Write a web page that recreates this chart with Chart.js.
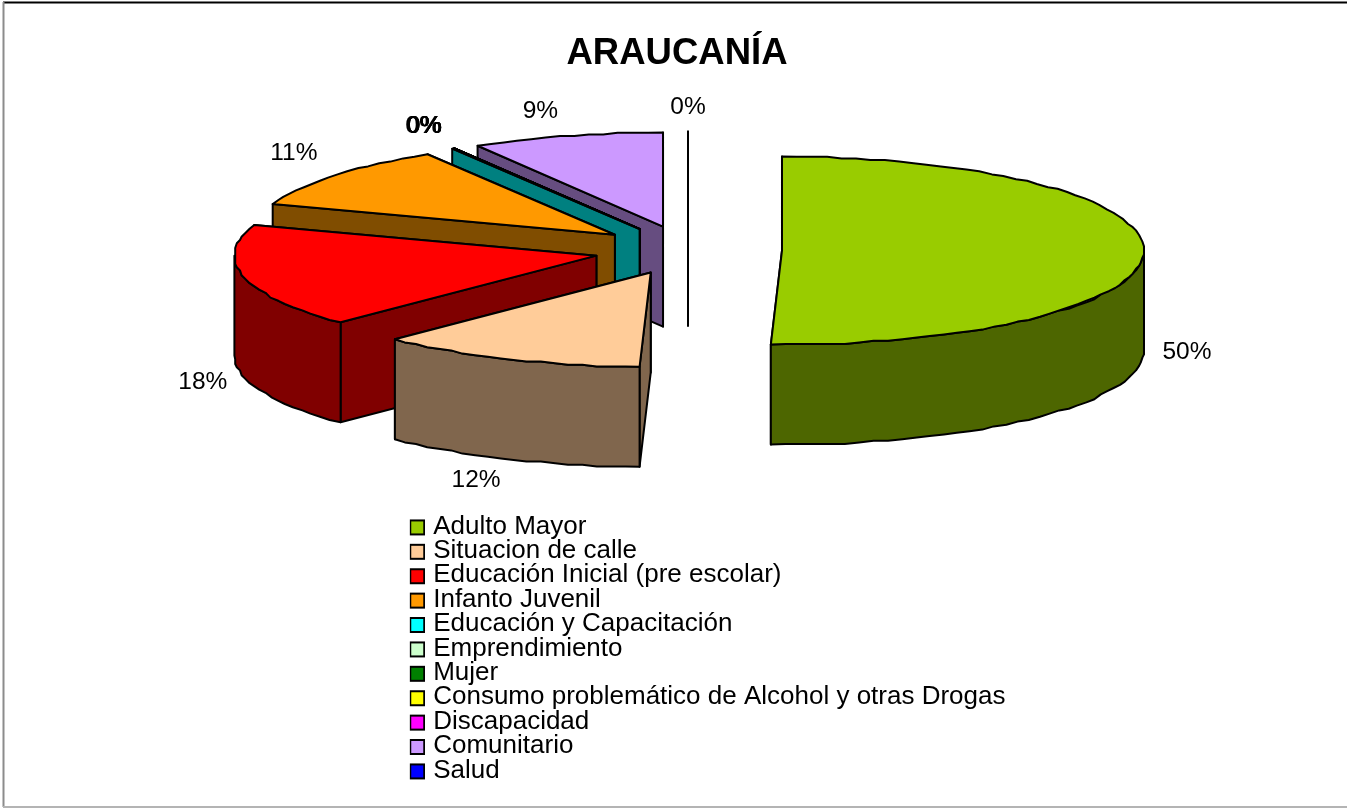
<!DOCTYPE html>
<html>
<head>
<meta charset="utf-8">
<style>
html,body{margin:0;padding:0;background:#fff;overflow:hidden}
canvas{display:block}
</style>
<script src="https://cdn.jsdelivr.net/npm/chart.js@4/dist/chart.umd.min.js"></script>
</head>
<body>
<canvas id="c" width="1347" height="808"></canvas>
<script>
const chartTitle = 'ARAUCANÍA';
const categories = ['Adulto Mayor','Situacion de calle','Educación Inicial (pre escolar)','Infanto Juvenil','Educación y Capacitación','Emprendimiento','Mujer','Consumo problemático de Alcohol y otras Drogas','Discapacidad','Comunitario','Salud'];
const values = [50.49, 12, 17.8, 11.05, 0.1, 0, 0, 0, 0, 8.56, 0];
const sliceColors = ['#99CC00','#FFCC99','#FF0000','#FF9900','#00FFFF','#CCFFCC','#008000','#FFFF00','#FF00FF','#CC99FF','#0000FF'];

const FONT = '"Liberation Sans", Arial, sans-serif';
const SQUASH = 0.26, DEPTH = 100, RADIUS = 362, EXPLODE = 94;
const LABEL_GAP_X = 43, LABEL_GAP_Y = 22;
const labelNudge = [[0,0],[-14,1],[1,0],[-6,-9],[-8,-3],[-8,-3],[-8,-3],[-8,-3],[-8,-3],[-15,-3],[0,-2]];

function darker(hex){
  const n = parseInt(hex.slice(1),16);
  const h = v => Math.round(v/2).toString(16).padStart(2,'0');
  return '#'+h(n>>16&255)+h(n>>8&255)+h(n&255);
}
const snap = v => Math.round(v/1.6)*1.6;

function geometry(arc){
  const mid = (arc.startAngle+arc.endAngle)/2;
  return {
    tx: arc.x+Math.cos(mid)*EXPLODE,
    ty: arc.y+Math.sin(mid)*EXPLODE*SQUASH,
    r: arc.outerRadius, mid
  };
}
function rimPoint(g,a){
  return [g.tx+Math.cos(a)*g.r, g.ty+Math.sin(a)*g.r*SQUASH];
}
function rim(g,a0,a1){
  const n = Math.max(1,Math.ceil(Math.abs(a1-a0)*g.r/15)), pts=[];
  for(let i=0;i<=n;i++){
    const p=rimPoint(g,a0+(a1-a0)*i/n);
    pts.push(i===0||i===n?p:[snap(p[0]),snap(p[1])]);
  }
  return pts;
}
function poly(ctx,pts,fill){
  ctx.beginPath();
  pts.forEach((p,i)=> i?ctx.lineTo(p[0],p[1]):ctx.moveTo(p[0],p[1]));
  ctx.closePath();
  if(fill){ctx.fillStyle=fill;ctx.fill();}
  ctx.stroke();
}
function drawSlice(ctx,arc,color){
  const g = geometry(arc), a0=arc.startAngle, a1=arc.endAngle;
  const tip=[g.tx,g.ty], empty = a1-a0===0, side = empty?null:darker(color);
  ctx.strokeStyle='#000'; ctx.lineWidth=2; ctx.lineJoin='round';
  const walls=[a0,a1].map(a=>{
    const p=rimPoint(g,a);
    return {my:(p[1]+g.ty)/2, pts:[tip,p,[p[0],p[1]+DEPTH],[tip[0],tip[1]+DEPTH]]};
  }).sort((u,v)=>u.my-v.my);
  walls.forEach(w=>poly(ctx,w.pts,side));
  const lo=Math.max(a0,0), hi=Math.min(a1,Math.PI);
  if(lo<hi){
    const t=rim(g,lo,hi);
    poly(ctx,t.concat(t.slice().reverse().map(p=>[p[0],p[1]+DEPTH])),side);
  }
  if(!empty) poly(ctx,[tip].concat(rim(g,a0,a1)),color);
}

const pie3d = {
  id:'pie3d',
  beforeDraw(chart){
    const ctx=chart.ctx, L=chart.legend;
    L.left=409.8; L.top=515; L.right=1300; L.bottom=800;
    const T=chart.titleBlock; T.left=0; T.right=1354;
    ctx.save();
    ctx.fillStyle='#fff'; ctx.fillRect(0,0,chart.width,chart.height);
    ctx.strokeStyle='#000'; ctx.lineWidth=2;
    ctx.beginPath(); ctx.moveTo(3,2.5); ctx.lineTo(chart.width,2.5); ctx.stroke();
    ctx.strokeStyle='#8c8c8c';
    ctx.beginPath(); ctx.moveTo(3.5,2); ctx.lineTo(3.5,807); ctx.stroke();
    ctx.strokeStyle='#b4b4b4';
    ctx.beginPath(); ctx.moveTo(3,807); ctx.lineTo(chart.width,807); ctx.stroke();
    ctx.restore();
  },
  beforeDatasetDraw(){ return false; },
  afterDatasetsDraw(chart){
    const ctx=chart.ctx, arcs=chart.getDatasetMeta(0).data;
    const order=arcs.map((a,i)=>i).sort((i,j)=>geometry(arcs[i]).ty-geometry(arcs[j]).ty);
    ctx.save();
    order.forEach(i=>drawSlice(ctx,arcs[i],sliceColors[i]));
    const total=values.reduce((s,v)=>s+v,0);
    ctx.fillStyle='#000'; ctx.font='24.5px '+FONT; ctx.textAlign='center'; ctx.textBaseline='middle';
    arcs.forEach((arc,i)=>{
      const g=geometry(arc), front=Math.sin(g.mid)>=-0.02;
      const x=g.tx+Math.cos(g.mid)*(g.r+LABEL_GAP_X)+labelNudge[i][0];
      const y=g.ty+Math.sin(g.mid)*(g.r*SQUASH+LABEL_GAP_Y)+(front?DEPTH:0)+labelNudge[i][1];
      ctx.fillText(Math.round(values[i]/total*100)+'%',x,y);
    });
    ctx.restore();
  }
};

function legendSwatch(color){
  const c=document.createElement('canvas'); c.width=22; c.height=22;
  const x=c.getContext('2d');
  x.fillStyle=color; x.strokeStyle='#000'; x.lineWidth=2;
  x.fillRect(7,5,14,14); x.strokeRect(7,5,14,14);
  return c;
}

new Chart(document.getElementById('c'),{
  type:'pie',
  data:{labels:categories,datasets:[{data:values,backgroundColor:sliceColors,borderColor:'#000',borderWidth:1,radius:RADIUS,offset:EXPLODE}]},
  options:{
    responsive:false,animation:false,
    layout:{padding:{left:29,bottom:393.2}},
    plugins:{
      tooltip:{enabled:false},
      title:{display:true,text:chartTitle,color:'#000',font:{family:FONT,size:36.5,weight:'bold'},padding:{top:32,bottom:9.7}},
      legend:{
        display:true,position:'chartArea',align:'start',
        labels:{
          color:'#000',font:{family:FONT,size:26,lineHeight:1},padding:-1.6,
          boxWidth:15,boxHeight:15,usePointStyle:true,pointStyleWidth:12,
          generateLabels(chart){
            const items=Chart.overrides.pie.plugins.legend.labels.generateLabels(chart);
            items.forEach((it,i)=>{it.pointStyle=legendSwatch(sliceColors[i]);});
            return items;
          }
        }
      }
    }
  },
  plugins:[pie3d]
});
</script>
</body>
</html>
